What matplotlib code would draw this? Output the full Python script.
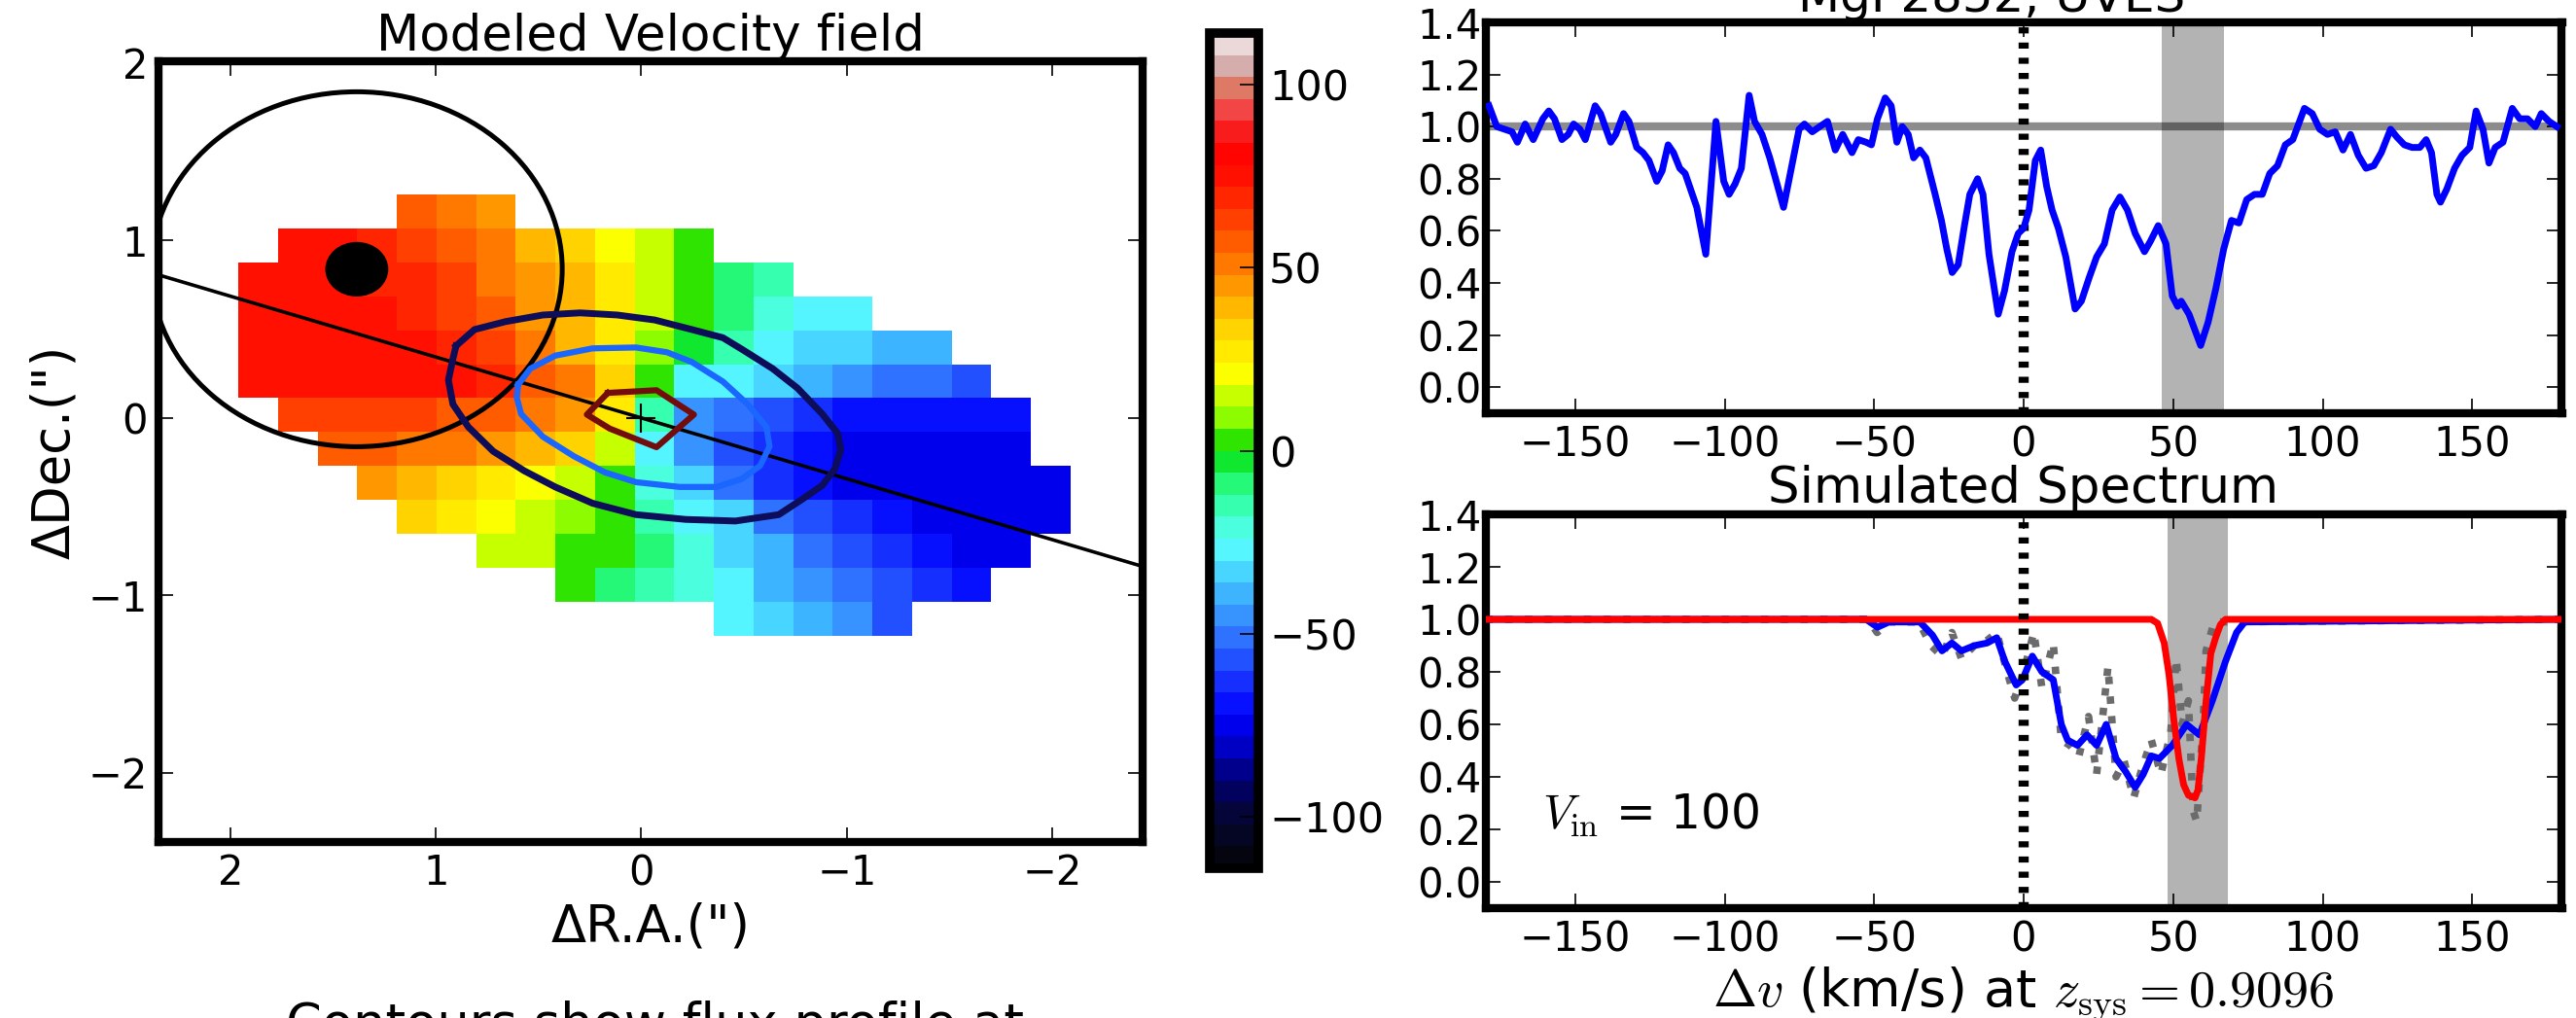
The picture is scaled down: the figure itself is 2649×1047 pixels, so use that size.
import numpy as np
import matplotlib
matplotlib.use('Agg')
import matplotlib.pyplot as plt
from matplotlib.colors import LinearSegmentedColormap
from matplotlib.patches import Circle

plt.rcParams['font.family'] = ['DejaVu Sans']
plt.rcParams['mathtext.fontset'] = 'cm'

N = np.nan

# modeled velocity field (km/s), rows north->south, columns east->west
vel_map = [
    [N, N, N, N, 55, 48, 42, N, N, N, N, N, N, N, N, N, N, N, N, N, N],
    [N, 72, 72, 68, 62, 55, 48, 40, 32, 22, 12, 3, N, N, N, N, N, N, N, N, N],
    [74, 74, 73, 71, 66, 60, 53, 45, 36, 26, 14, 2, -8, -15, N, N, N, N, N, N, N],
    [74, 74, 74, 72, 66, 62, 55, 46, 36, 25, 12, 0, -12, -20, -25, -27, N, N, N, N, N],
    [75, 75, 75, 74, 72, 67, 60, 50, 38, 25, 10, -5, -17, -25, -31, -34, -37, -40, N, N, N],
    [74, 75, 75, 75, 74, 72, 66, 58, 50, 32, 4, -25, -29, -35, -41, -47, -51, -54, -56, N, N],
    [N, 64, 63, 62, 60, 58, 57, 52, 44, 28, -14, -47, -53, -60, -64, -67, -68, -69, -70, -71, N],
    [N, N, 58, 55, 53, 50, 46, 38, 30, 13, -25, -45, -60, -66, -70, -74, -75, -75, -75, -75, N],
    [N, N, N, 42, 38, 33, 26, 22, 16, 2, -22, -32, -52, -62, -70, -74, -75, -76, -76, -76, -76],
    [N, N, N, N, 32, 25, 22, 16, 10, 1, -14, -26, -36, -50, -58, -65, -70, -74, -75, -76, -76],
    [N, N, N, N, N, N, 17, 12, 5, 0, -9, -24, -33, -42, -52, -59, -65, -70, -73, -74, N],
    [N, N, N, N, N, N, N, N, 1, -7, -14, -24, -29, -38, -46, -54, -60, -65, -67, N, N],
    [N, N, N, N, N, N, N, N, N, N, N, N, -26, -32, -38, -48, -57, N, N, N, N],
]
map_ra = (1.960, -2.091)
map_dec = (-1.231, 1.256)

# flux contours (arcsec)
outer_ra = [0.902, 0.812, 0.660, 0.479, 0.298, 0.117, -0.065, -0.246, -0.397, -0.488, -0.639,
            -0.760, -0.881, -0.956, -0.971, -0.941, -0.881, -0.790, -0.669, -0.458, -0.216,
            0.026, 0.237, 0.419, 0.570, 0.721, 0.842, 0.917, 0.939, 0.917, 0.902]
outer_dec = [0.406, 0.498, 0.543, 0.580, 0.592, 0.580, 0.552, 0.498, 0.452, 0.388, 0.278,
             0.168, 0.022, -0.088, -0.179, -0.289, -0.380, -0.453, -0.545, -0.581, -0.572,
             -0.545, -0.481, -0.389, -0.298, -0.188, -0.051, 0.077, 0.214, 0.333, 0.406]
mid_ra = [0.600, 0.540, 0.419, 0.237, 0.026, -0.125, -0.246, -0.397, -0.518, -0.609, -0.624,
          -0.578, -0.488, -0.367, -0.186, 0.026, 0.177, 0.328, 0.479, 0.585, 0.606, 0.600]
mid_dec = [0.187, 0.278, 0.351, 0.392, 0.397, 0.370, 0.315, 0.205, 0.077, -0.051, -0.161,
           -0.270, -0.344, -0.389, -0.389, -0.362, -0.307, -0.216, -0.106, 0.022, 0.114, 0.187]
inner_ra = [0.163, -0.074, -0.256, -0.074, 0.154, 0.265, 0.163]
inner_dec = [0.141, 0.156, 0.019, -0.165, -0.060, 0.019, 0.141]

qso_ra, qso_dec = 1.385, 0.838
impact_radius = 1.0
qso_radius = 0.15
major_axis_slope = 0.343

# MgI 2852 UVES spectrum
uves_v = [-178.8, -176.2, -173.7, -171.1, -169.3, -166.7, -164.0, -160.8, -158.8, -156.9,
          -154.4, -152.3, -150.5, -148.4, -146.6, -143.3, -141.5, -138.1, -136.4, -133.8,
          -132.0, -129.4, -127.3, -125.3, -122.7, -120.9, -118.9, -117.1, -115.0, -113.2,
          -109.3, -106.3, -102.9, -100.3, -98.5, -96.5, -94.4, -91.8, -90.0, -87.5,
          -84.9, -80.3, -77.2, -75.1, -73.3, -70.7, -68.2, -65.6, -63.0, -60.5,
          -57.4, -55.3, -52.7, -50.9, -48.9, -46.3, -44.3, -42.4, -40.6, -38.6,
          -36.8, -34.7, -32.7, -29.6, -27.5, -25.7, -23.9, -21.9, -19.8, -18.0,
          -15.4, -13.6, -11.6, -8.5, -6.4, -3.9, -1.8, 0.0, 1.8, 3.9,
          5.7, 7.7, 9.5, 11.6, 14.1, 17.2, 19.3, 21.9, 24.4, 27.0,
          29.6, 32.2, 34.7, 37.3, 40.4, 42.4, 45.0, 47.6, 49.7, 51.5,
          52.7, 55.3, 59.2, 61.7, 64.3, 66.9, 69.5, 72.0, 74.6, 77.2,
          79.8, 82.3, 84.9, 87.5, 90.0, 93.9, 96.5, 99.0, 101.6, 104.2,
          106.8, 109.3, 111.9, 114.5, 117.1, 119.6, 122.7, 124.8, 127.3, 129.9,
          132.5, 134.6, 136.4, 138.2, 139.4, 141.5, 144.1, 146.6, 149.2, 151.3,
          153.6, 155.6, 157.7, 160.3, 163.4, 165.9, 168.5, 171.1, 173.1, 175.7,
          178.3]
uves_flux = [1.08, 1.00, 0.99, 0.98, 0.94, 1.01, 0.95, 1.03, 1.06, 1.03,
             0.95, 0.97, 1.01, 0.99, 0.95, 1.08, 1.05, 0.94, 0.97, 1.05,
             1.02, 0.92, 0.90, 0.87, 0.79, 0.83, 0.93, 0.90, 0.84, 0.82,
             0.69, 0.51, 1.02, 0.79, 0.74, 0.78, 0.84, 1.12, 1.02, 0.97,
             0.88, 0.69, 0.87, 0.99, 1.01, 0.98, 1.00, 1.02, 0.91, 0.97,
             0.90, 0.95, 0.94, 0.93, 1.03, 1.11, 1.08, 0.94, 1.00, 0.97,
             0.88, 0.91, 0.88, 0.74, 0.64, 0.53, 0.44, 0.47, 0.62, 0.74,
             0.80, 0.74, 0.51, 0.28, 0.37, 0.52, 0.59, 0.61, 0.68, 0.87,
             0.91, 0.77, 0.68, 0.61, 0.50, 0.30, 0.33, 0.42, 0.50, 0.55,
             0.68, 0.73, 0.68, 0.59, 0.52, 0.56, 0.62, 0.55, 0.35, 0.31,
             0.33, 0.28, 0.16, 0.25, 0.38, 0.53, 0.64, 0.63, 0.72, 0.74,
             0.74, 0.82, 0.85, 0.93, 0.95, 1.07, 1.05, 0.99, 0.97, 0.98,
             0.91, 0.97, 0.89, 0.84, 0.85, 0.90, 0.99, 0.96, 0.93, 0.92,
             0.92, 0.95, 0.90, 0.74, 0.71, 0.76, 0.84, 0.89, 0.92, 1.06,
             0.99, 0.86, 0.92, 0.94, 1.07, 1.03, 1.03, 1.00, 1.05, 1.02,
             1.00]

# simulated spectrum: outflow model (blue), data-like (gray), inflow (red)
sim_v = [-180, -52.7, -48.9, -45.0, -34.7, -30.5, -27.3, -24.0, -20.8, -16.5,
         -12.2, -9.0, -6.3, -2.5, -0.4, 2.9, 6.1, 9.9, 12.6, 14.7,
         18.0, 21.2, 24.4, 27.6, 30.9, 34.1, 37.3, 40.0, 42.7, 45.4,
         49.7, 54.5, 58.8, 63.1, 67.5, 71.2, 73.9, 180]
sim_flux = [1.0, 1.0, 0.97, 0.99, 0.99, 0.94, 0.88, 0.91, 0.88, 0.90,
            0.91, 0.93, 0.84, 0.75, 0.77, 0.86, 0.80, 0.77, 0.60, 0.54,
            0.52, 0.56, 0.52, 0.60, 0.47, 0.42, 0.36, 0.41, 0.48, 0.47,
            0.52, 0.60, 0.56, 0.69, 0.84, 0.95, 0.99, 1.0]
obs_v = [-180, -52, -49, -45, -35, -31, -27.3, -24, -20.8, -16.5,
         -12.2, -9, -6, -3, 0, 3.4, 6.1, 9.9, 12.6, 15.5,
         18.5, 21.7, 24.4, 28.2, 30.9, 33.6, 36.8, 39.5, 42.7, 45.9,
         49.2, 51, 53, 55.1, 56.7, 57.9, 60, 61, 63.7, 180]
obs_flux = [1.0, 1.0, 0.95, 0.99, 0.99, 0.90, 0.86, 0.95, 0.85, 0.90,
            0.92, 0.95, 0.82, 0.70, 0.80, 0.95, 0.74, 0.91, 0.54, 0.52,
            0.48, 0.63, 0.41, 0.82, 0.40, 0.46, 0.32, 0.43, 0.54, 0.41,
            0.57, 0.85, 0.60, 0.69, 0.27, 0.23, 0.60, 0.88, 0.99, 1.0]
model_v = [-180, 42.7, 44.8, 47.0, 48.6, 50.2, 51.9, 53.5, 55.1, 57.3,
           58.3, 59.4, 61.0, 62.6, 64.2, 65.8, 67.5, 180]
model_flux = [1.0, 1.0, 0.985, 0.91, 0.79, 0.62, 0.47, 0.37, 0.33, 0.32,
              0.35, 0.47, 0.69, 0.87, 0.93, 0.98, 1.0, 1.0]

uves_band = (46.3, 66.9)
sim_band = (48.2, 68.4)
v_in = 100
z_sys = 0.9096

# jet-like colormap with dark / pale ends
vmin, vmax = -114, 114
nodes = [(-114, (0.02, 0.02, 0.06)), (-102, (0.02, 0.02, 0.22)), (-92, (0.0, 0.0, 0.45)),
         (-83, (0.0, 0.0, 0.78)), (-74, (0.0, 0.0, 1.0)), (-63, (0.1, 0.22, 1.0)),
         (-50, (0.2, 0.5, 1.0)), (-38, (0.25, 0.75, 1.0)), (-26, (0.35, 1.0, 1.0)),
         (-14, (0.2, 1.0, 0.65)), (-5, (0.1, 0.95, 0.3)), (0, (0.0, 0.85, 0.0)),
         (10, (0.6, 1.0, 0.0)), (22, (1.0, 1.0, 0.0)), (36, (1.0, 0.8, 0.0)),
         (50, (1.0, 0.52, 0.0)), (63, (1.0, 0.28, 0.0)), (75, (1.0, 0.08, 0.0)),
         (85, (1.0, 0.0, 0.0)), (93, (0.95, 0.2, 0.2)), (98, (0.95, 0.35, 0.35)),
         (101, (0.88, 0.45, 0.35)), (105, (0.8, 0.6, 0.6)), (114, (0.92, 0.85, 0.85))]
cmap = LinearSegmentedColormap.from_list(
    'velo', [((v - vmin) / (vmax - vmin), c) for v, c in nodes], N=38)

W, H = 2649, 1047
fig = plt.figure(figsize=(W / 100, H / 100), dpi=100)

spine_w = 6
tick_fs = 30


def frame(ax):
    for s in ax.spines.values():
        s.set_linewidth(spine_w)
    ax.tick_params(direction='in', top=True, right=True, length=11, width=1.2,
                   labelsize=tick_fs, pad=8)


# velocity field panel
ax = fig.add_axes([163 / W, 1 - 866 / H, 1012 / W, 803 / H])
im = ax.imshow(np.array(vel_map, dtype=float), cmap=cmap, vmin=vmin, vmax=vmax,
               extent=(map_ra[0], map_ra[1], map_dec[0], map_dec[1]),
               origin='upper', interpolation='nearest', aspect='auto', zorder=1)
ax.add_patch(Circle((qso_ra, qso_dec), impact_radius, fill=False, ec='k', lw=3.6, zorder=3))
ax.add_patch(Circle((qso_ra, qso_dec), qso_radius, fc='k', ec='k', zorder=3))
ax.axline((0, 0), slope=major_axis_slope, color='k', lw=2.6, zorder=4)
ax.plot(outer_ra, outer_dec, color=(0.05, 0.05, 0.35), lw=5, zorder=5)
ax.plot(mid_ra, mid_dec, color=(0.1, 0.4, 1.0), lw=4.5, zorder=5)
ax.plot(inner_ra, inner_dec, color=(0.45, 0.05, 0.05), lw=4.5, zorder=5)
ax.plot([0], [0], marker='+', ms=22, mew=1.5, color='k', zorder=6)
ax.set_xlim(2.35, -2.44)
ax.set_ylim(-2.39, 2.01)
ax.set_xticks([2, 1, 0, -1, -2])
ax.set_yticks([2, 1, 0, -1, -2])
frame(ax)
ax.set_title('Modeled Velocity field', fontsize=37, pad=8)
ax.set_xlabel('ΔR.A.(")', fontsize=38, labelpad=6)
ax.set_ylabel('ΔDec.(")', fontsize=38, labelpad=6)

# colorbar
cax = fig.add_axes([1244 / W, 1 - 893 / H, 50 / W, 859 / H])
cb = fig.colorbar(im, cax=cax, ticks=[-100, -50, 0, 50, 100])
cb.outline.set_linewidth(7)
cax.tick_params(direction='in', length=14, width=1.2, labelsize=31, pad=8)

fig.text(673 / W, 1 - 1070 / H, 'Contours show flux profile at', fontsize=38,
         ha='center', va='baseline')

# UVES spectrum
ax1 = fig.add_axes([1527.5 / W, 1 - 425 / H, 1107 / W, 402 / H])
ax1.axvspan(*uves_band, color='0.7', lw=0, zorder=0)
ax1.axhline(1.0, color='k', alpha=0.45, lw=6, zorder=1)
ax1.axvline(0, color='k', lw=7.5, ls=(0, (0.6, 0.9)), zorder=2)
ax1.plot(uves_v, uves_flux, color='b', lw=5, zorder=3, solid_joinstyle='round')
ax1.set_xlim(-180, 180)
ax1.set_ylim(-0.1, 1.4)
ax1.set_xticks([-150, -100, -50, 0, 50, 100, 150])
ax1.set_yticks(np.arange(0, 1.41, 0.2))
ax1.yaxis.set_major_formatter(plt.FormatStrFormatter('%.1f'))
frame(ax1)
ax1.tick_params(axis='y', pad=3)
ax1.set_title('MgI 2852, UVES', fontsize=36, pad=8, x=0.47)

# simulated spectrum
ax2 = fig.add_axes([1527.5 / W, 1 - 934 / H, 1107 / W, 405 / H])
ax2.axvspan(*sim_band, color='0.7', lw=0, zorder=0)
ax2.plot(obs_v, obs_flux, color='0.42', lw=5.5, ls=':', zorder=2)
ax2.plot(sim_v, sim_flux, color='b', lw=5, zorder=3, solid_joinstyle='round')
ax2.plot(model_v, model_flux, color='r', lw=5, zorder=4, solid_joinstyle='round')
ax2.axvline(0, color='k', lw=7.5, ls=(0, (0.6, 0.9)), zorder=5)
ax2.text(-161, 0.2, r'$V_{\rm in}$' + f' = {v_in}', fontsize=35, va='baseline', ha='left')
ax2.set_xlim(-180, 180)
ax2.set_ylim(-0.1, 1.4)
ax2.set_xticks([-150, -100, -50, 0, 50, 100, 150])
ax2.set_yticks(np.arange(0, 1.41, 0.2))
ax2.yaxis.set_major_formatter(plt.FormatStrFormatter('%.1f'))
frame(ax2)
ax2.tick_params(axis='y', pad=3)
ax2.set_title('Simulated Spectrum', fontsize=37, pad=9)
ax2.set_xlabel(r'$\Delta v$ (km/s) at $z_{\rm sys}=$' + f'${z_sys}$', fontsize=39, labelpad=4)

fig.savefig('out.png', dpi=100)
